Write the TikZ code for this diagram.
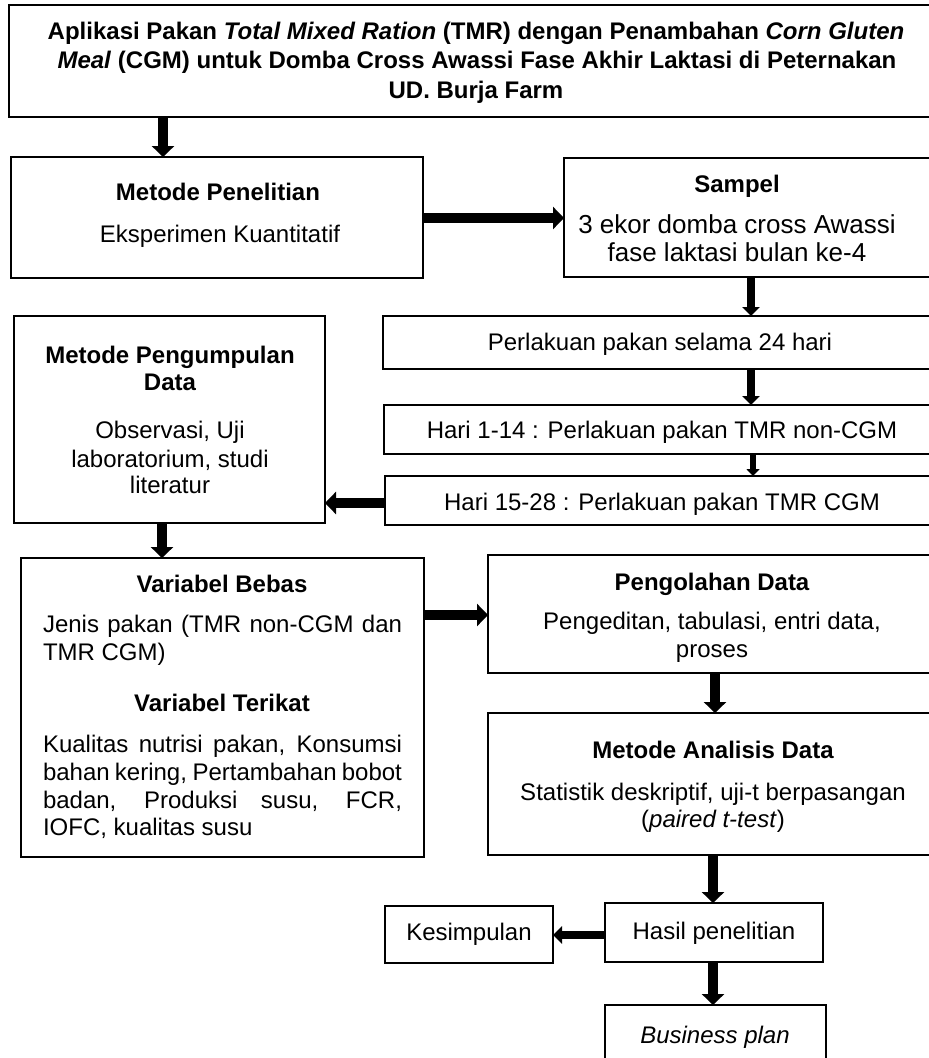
\documentclass[tikz,border=0pt]{standalone}
\usepackage{fontspec}
\setmainfont{Liberation Sans}
\usetikzlibrary{arrows.meta}
\newcommand\rbox[5]{\node[box, minimum width={#4-#2}, minimum height={#5-#3}] (#1) at ({(#2+#4)/2},{(#3+#5)/2}) {};}
\begin{document}
\begin{tikzpicture}[x=1pt,y=-1pt,
  box/.style={draw, line width=2.8pt, inner sep=0pt, outer sep=0pt},
  txt/.style={inner sep=0pt, outer sep=0pt, anchor=base, font=\fontsize{24}{27.6}\selectfont},
  hd/.style={txt, font=\fontsize{24}{27.6}\selectfont\bfseries},
  big/.style={font=\fontsize{26}{29}\selectfont},
  jl/.style={txt, anchor=base west},
  arr/.style={line width=10pt, -{Triangle[length=11pt,width=22pt]}},
  arrm/.style={line width=7.5pt, -{Triangle[length=9pt,width=17pt]}},
  arrs/.style={line width=6pt, -{Triangle[length=7pt,width=13pt]}}]
\useasboundingbox (0,0) rectangle (929,1058);
\clip (0,0) rectangle (929,1058);
\fill[white] (0,0) rectangle (929,1058);
% boxes
\rbox{title}{9}{5}{940}{117}
\rbox{mp}{11}{157}{423}{278}
\rbox{sampel}{564}{158}{940}{277}
\rbox{perl}{383}{316}{940}{369}
\rbox{hari1}{384}{405}{940}{454}
\rbox{hari2}{385}{476}{940}{525}
\rbox{mpd}{14}{316}{325}{523}
\rbox{vb}{21}{558}{424}{857}
\rbox{pd}{488}{555}{940}{673}
\rbox{mad}{488}{713}{940}{855}
\rbox{hp}{605}{903}{823}{962}
\rbox{kes}{385}{906}{553}{963}
\rbox{bp}{605}{1005}{826}{1075}
% texts
\node[hd] (t1) at (476,39) {Aplikasi Pakan \textit{Total Mixed Ration} (TMR) dengan Penambahan \textit{Corn Gluten}};
\node[hd] (t2) at (477,68) {\textit{Meal} (CGM) untuk Domba Cross Awassi Fase Akhir Laktasi di Peternakan};
\node[hd] (t3) at (476,98) {UD. Burja Farm};
\node[hd] (mpt) at (218,200) {Metode Penelitian};
\node[txt] (mpb) at (220,242) {Eksperimen Kuantitatif};
\node[hd] (st) at (737,192) {Sampel};
\node[txt, big] (sb1) at (737,233) {3 ekor domba cross Awassi};
\node[txt, big] (sb2) at (737,261) {fase laktasi bulan ke-4};
\node[txt] (pt) at (660,350) {Perlakuan pakan selama 24 hari};
\node[txt] (h1t) at (662,438) {Hari 1-14 : Perlakuan pakan TMR non-CGM};
\node[txt] (h2t) at (662,510) {Hari 15-28 : Perlakuan pakan TMR CGM};
\node[hd] (mpdt1) at (170,363) {Metode Pengumpulan};
\node[hd] (mpdt2) at (170,390) {Data};
\node[txt] (mpdb1) at (170,438) {Observasi, Uji};
\node[txt] (mpdb2) at (170,467) {laboratorium, studi};
\node[txt] (mpdb3) at (170,493) {literatur};
\node[hd] (vbt) at (222,592) {Variabel Bebas};
\node[jl] (vbb1) at (43,632) {\makebox[359pt][s]{Jenis pakan (TMR non-CGM dan}};
\node[jl] (vbb2) at (43,660) {TMR CGM)};
\node[hd] (vtt) at (222,711) {Variabel Terikat};
\node[jl] (vtb1) at (43,752) {\makebox[359pt][s]{Kualitas nutrisi pakan, Konsumsi}};
\node[jl] (vtb2) at (43,780) {\makebox[359pt][s]{bahan kering, Pertambahan bobot}};
\node[jl] (vtb3) at (43,808) {\makebox[359pt][s]{badan, Produksi susu, FCR,}};
\node[jl] (vtb4) at (43,835) {IOFC, kualitas susu};
\node[hd] (pdt) at (712,590) {Pengolahan Data};
\node[txt] (pdb1) at (712,629) {Pengeditan, tabulasi, entri data,};
\node[txt] (pdb2) at (712,657) {proses};
\node[hd] (madt) at (713,758) {Metode Analisis Data};
\node[txt] (madb1) at (713,800) {Statistik deskriptif, uji-t berpasangan};
\node[txt] (madb2) at (713,827) {(\textit{paired t-test})};
\node[txt] (hpt) at (714,939) {Hasil penelitian};
\node[txt] (kest) at (469,940) {Kesimpulan};
\node[txt] (bpt) at (715,1043) {\textit{Business plan}};
% arrows
\coordinate (x1) at (163,0);
\coordinate (y2) at (0,218);
\coordinate (x3) at (751,0);
\coordinate (x5) at (753,0);
\coordinate (y6) at (0,503);
\coordinate (x7) at (162,0);
\coordinate (y8) at (0,615);
\coordinate (x9) at (715,0);
\coordinate (x10) at (713,0);
\coordinate (y11) at (0,935);
\draw[arr] (title.south -| x1) -- (mp.north -| x1);
\draw[arr] (mp.east |- y2) -- (sampel.west |- y2);
\draw[arrm] (sampel.south -| x3) -- (perl.north -| x3);
\draw[arrm] (perl.south -| x3) -- (hari1.north -| x3);
\draw[arrs] (hari1.south -| x5) -- (hari2.north -| x5);
\draw[arr] (hari2.west |- y6) -- (mpd.east |- y6);
\draw[arr] (mpd.south -| x7) -- (vb.north -| x7);
\draw[arr] (vb.east |- y8) -- (pd.west |- y8);
\draw[arr] (pd.south -| x9) -- (mad.north -| x9);
\draw[arr] (mad.south -| x10) -- (hp.north -| x10);
\draw[arrm] (hp.west |- y11) -- (kes.east |- y11);
\draw[arr] (hp.south -| x10) -- (bp.north -| x10);
\end{tikzpicture}
\end{document}
